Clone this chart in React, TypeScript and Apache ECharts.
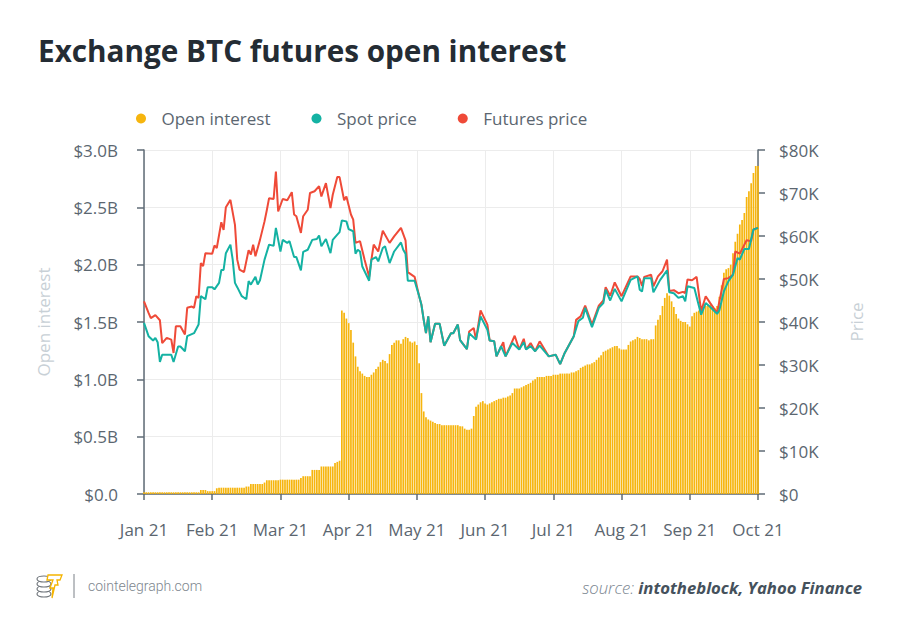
import React, { useEffect, useRef } from "react";
import * as echarts from "echarts";

// x-axis month labels (each month spans 30 daily slots)
const monthLabels = ["Jan 21", "Feb 21", "Mar 21", "Apr 21", "May 21", "Jun 21", "Jul 21", "Aug 21", "Sep 21", "Oct 21"];

// Open interest, $B, daily
const oiJan = [
  0.015, 0.015, 0.015, 0.015, 0.015, 0.015, 0.015, 0.015, 0.015, 0.015,
  0.015, 0.015, 0.015, 0.015, 0.015, 0.015, 0.015, 0.015, 0.015, 0.015,
  0.015, 0.015, 0.015, 0.015, 0.015, 0.035, 0.035, 0.035, 0.025, 0.025,
];
const oiFeb = [
  0.025, 0.025, 0.05, 0.055, 0.055, 0.055, 0.055, 0.055, 0.055, 0.055,
  0.055, 0.055, 0.055, 0.055, 0.055, 0.065, 0.065, 0.087, 0.087, 0.087,
  0.087, 0.087, 0.087, 0.1, 0.12, 0.12, 0.12, 0.12, 0.12, 0.12,
];
const oiMar = [
  0.125, 0.125, 0.125, 0.125, 0.125, 0.125, 0.125, 0.125, 0.125, 0.14,
  0.155, 0.155, 0.155, 0.155, 0.21, 0.21, 0.21, 0.21, 0.24, 0.24,
  0.24, 0.24, 0.24, 0.24, 0.27, 0.28, 0.29, 1.6, 1.58, 1.53,
];
const oiApr = [
  1.49, 1.43, 1.32, 1.2, 1.11, 1.07, 1.05, 1.03, 1.02, 1.02,
  1.04, 1.06, 1.09, 1.11, 1.15, 1.17, 1.16, 1.14, 1.22, 1.3,
  1.32, 1.34, 1.34, 1.31, 1.35, 1.37, 1.36, 1.33, 1.32, 1.33,
];
const oiMay = [
  1.3, 1.14, 0.88, 0.72, 0.67, 0.65, 0.64, 0.63, 0.62, 0.61,
  0.61, 0.6, 0.6, 0.6, 0.6, 0.6, 0.6, 0.6, 0.6, 0.59,
  0.59, 0.57, 0.56, 0.56, 0.57, 0.68, 0.76, 0.78, 0.8, 0.81,
];
const oiJun = [
  0.79, 0.78, 0.79, 0.8, 0.81, 0.82, 0.83, 0.83, 0.84, 0.84,
  0.85, 0.86, 0.88, 0.92, 0.92, 0.92, 0.93, 0.94, 0.95, 0.96,
  0.97, 0.99, 1.0, 1.02, 1.02, 1.02, 1.02, 1.03, 1.03, 1.03,
];
const oiJul = [
  1.04, 1.04, 1.04, 1.05, 1.05, 1.05, 1.05, 1.05, 1.06, 1.06,
  1.07, 1.08, 1.1, 1.11, 1.12, 1.13, 1.13, 1.14, 1.15, 1.17,
  1.19, 1.21, 1.24, 1.25, 1.26, 1.27, 1.28, 1.29, 1.29, 1.27,
];
const oiAug = [
  1.26, 1.26, 1.26, 1.3, 1.33, 1.34, 1.35, 1.37, 1.36, 1.35,
  1.35, 1.35, 1.34, 1.35, 1.35, 1.47, 1.52, 1.56, 1.64, 1.71,
  1.75, 1.73, 1.68, 1.63, 1.57, 1.53, 1.51, 1.5, 1.5, 1.48,
];
const oiSep = [
  1.46, 1.55, 1.58, 1.59, 1.6, 1.61, 1.63, 1.64, 1.65, 1.65,
  1.64, 1.62, 1.64, 1.72, 1.82, 1.93, 1.96, 1.97, 2.0, 2.1,
  2.2, 2.27, 2.35, 2.39, 2.45, 2.59, 2.64, 2.71, 2.8, 2.86,
];
const oiOct = [2.86];

const openInterestB = [
  ...oiJan, ...oiFeb, ...oiMar, ...oiApr, ...oiMay, ...oiJun, ...oiJul, ...oiAug, ...oiSep, ...oiOct,
];

// Spot price, $K : [day slot, price]
const spotPriceK: [number, number][] = [
  [0, 39.8], [2, 36.7], [4, 35.7], [5, 36.3], [6, 35.3], [7, 30.7], [8, 32.4], [12, 32.4], [13, 30.7], [15, 34.3],
  [16, 34.3], [18, 33.2], [19, 36.7], [22, 37.4], [24, 39.4], [25, 46.0], [27, 45.3], [28, 48.1], [30, 48.1], [31, 47.6],
  [33, 49.1], [34, 52.1], [35, 52.1], [36, 56.0], [38, 58.0], [39, 54.5], [40, 49.1], [41, 48.1], [43, 46.0], [45, 45.3],
  [46, 49.5], [47, 48.7], [49, 50.5], [50, 48.7], [51, 49.7], [53, 54.5], [55, 58.0], [57, 57.7], [58, 61.9], [60, 56.4],
  [61, 59.1], [63, 58.4], [64, 58.8], [66, 55.1], [67, 55.1], [69, 52.0], [70, 56.3], [72, 56.8], [74, 59.1], [76, 59.3],
  [77, 60.1], [78, 57.6], [80, 59.3], [82, 56.0], [83, 59.1], [85, 60.3], [86, 60.9], [87, 63.6], [89, 63.4], [90, 61.6],
  [92, 61.1], [93, 55.9], [94, 56.8], [95, 56.4], [96, 52.9], [97, 51.8], [99, 49.6], [100, 54.5], [102, 55.1], [103, 54.1],
  [105, 57.2], [106, 57.6], [108, 53.7], [110, 56.4], [113, 58.5], [114, 56.8], [115, 55.9], [116, 49.6], [119, 49.6], [121, 46.0],
  [122, 44.0], [123, 40.5], [124, 37.4], [125, 41.3], [126, 35.3], [128, 39.6], [130, 39.6], [132, 34.5], [135, 37.4], [136, 37.4],
  [138, 39.4], [139, 35.8], [142, 33.7], [143, 37.4], [146, 35.9], [148, 41.3], [151, 38.2], [152, 35.7], [154, 35.5], [155, 32.0],
  [157, 34.4], [159, 32.0], [162, 35.1], [165, 33.6], [167, 35.3], [168, 33.6], [170, 34.4], [172, 33.2], [174, 34.5], [178, 32.0],
  [181, 32.4], [183, 30.2], [185, 32.8], [189, 36.7], [191, 40.2], [193, 41.0], [194, 43.3], [197, 38.8], [200, 43.3], [202, 44.4],
  [203, 47.5], [205, 45.0], [207, 47.7], [210, 44.8], [214, 49.8], [217, 50.6], [218, 47.5], [219, 47.1], [220, 50.2], [223, 50.2],
  [224, 46.9], [227, 49.8], [230, 52.0], [231, 46.9], [233, 46.7], [235, 45.6], [237, 46.0], [238, 44.8], [239, 48.3], [242, 47.9],
  [245, 41.7], [247, 44.4], [249, 43.5], [252, 41.9], [253, 42.7], [255, 47.1], [257, 49.5], [259, 51.0], [261, 54.9], [262, 54.5],
  [264, 57.0], [266, 57.0], [268, 61.5], [270, 61.9],
];

// Futures price, $K : [day slot, price]
const futuresPriceK: [number, number][] = [
  [0, 44.8], [2, 42.1], [3, 40.9], [5, 41.6], [7, 40.4], [8, 35.1], [10, 36.3], [12, 35.9], [13, 32.8], [14, 39.0],
  [16, 39.0], [18, 37.1], [19, 43.3], [21, 43.6], [22, 43.3], [23, 46.0], [24, 45.6], [25, 53.7], [26, 53.0], [27, 56.0],
  [30, 55.9], [31, 57.8], [32, 57.2], [34, 63.2], [35, 61.4], [36, 66.7], [38, 68.4], [40, 62.6], [41, 54.5], [42, 52.2],
  [44, 51.6], [46, 56.7], [47, 55.7], [48, 58.0], [49, 55.3], [51, 59.1], [53, 63.4], [54, 66.0], [55, 68.8], [57, 68.6],
  [58, 75.0], [59, 65.7], [61, 68.6], [63, 68.3], [65, 70.2], [66, 65.0], [67, 64.6], [69, 60.7], [70, 64.6], [72, 66.1],
  [73, 70.0], [75, 70.4], [77, 71.6], [78, 69.2], [80, 72.3], [82, 66.5], [83, 69.6], [85, 73.7], [86, 73.7], [88, 68.3],
  [89, 69.2], [91, 65.0], [92, 63.8], [93, 58.4], [95, 58.8], [97, 54.5], [99, 50.5], [100, 54.5], [101, 58.0], [103, 56.4],
  [105, 61.2], [108, 58.4], [110, 59.9], [113, 61.9], [115, 59.0], [116, 51.6], [119, 50.5], [121, 46.0], [122, 44.0], [123, 40.5],
  [124, 37.4], [125, 41.3], [126, 35.3], [128, 39.6], [130, 39.6], [132, 34.5], [135, 37.4], [136, 37.4], [138, 39.4], [139, 35.8],
  [142, 33.7], [143, 37.8], [145, 38.6], [146, 35.9], [148, 42.7], [151, 39.4], [152, 35.7], [154, 35.5], [155, 32.0], [158, 35.3],
  [159, 32.0], [163, 36.8], [165, 33.6], [167, 36.1], [168, 33.6], [170, 35.1], [172, 33.2], [174, 35.5], [178, 32.0], [181, 32.4],
  [183, 30.2], [185, 32.8], [189, 36.7], [190, 40.5], [192, 41.3], [194, 43.8], [197, 39.4], [200, 43.8], [202, 45.0], [203, 48.1],
  [205, 46.1], [207, 49.2], [210, 46.0], [214, 50.6], [217, 50.6], [218, 50.0], [219, 48.4], [220, 50.5], [223, 51.0], [224, 48.3],
  [226, 50.6], [228, 51.8], [230, 54.5], [231, 47.2], [233, 47.4], [235, 46.7], [237, 47.0], [238, 46.7], [239, 49.9], [241, 49.7],
  [243, 50.5], [245, 42.5], [247, 46.0], [249, 44.4], [252, 42.1], [255, 50.0], [257, 50.2], [259, 51.0], [260, 56.4], [262, 55.9],
  [265, 59.0], [267, 58.8], [268, 61.5], [270, 61.9],
];

const AXIS = "#5f6b76";
const LABEL = "#5b6670";
const GRID = "#ececec";
const FONT = "Open Sans";

export default function App() {
  const ref = useRef<HTMLDivElement>(null);

  useEffect(() => {
    const chart = echarts.init(ref.current!, null, { renderer: "svg" });
    chart.setOption({
      animation: false,
      backgroundColor: "#ffffff",
      textStyle: { fontFamily: FONT },
      grid: { left: 144, right: 142, top: 150, bottom: 142 },
      legend: {
        left: 136,
        top: 110,
        padding: 0,
        icon: "circle",
        itemWidth: 31,
        itemHeight: 10,
        itemGap: 41,
        textStyle: { fontSize: 17, color: LABEL, fontFamily: FONT },
        data: ["Open interest", "Spot price", "Futures price"],
      },
      xAxis: {
        type: "value",
        min: 0,
        max: 270,
        interval: 30,
        axisLine: { show: true, lineStyle: { color: AXIS, width: 1.5 } },
        axisTick: { show: true, length: 6, lineStyle: { color: AXIS, width: 1.5 } },
        axisLabel: {
          margin: 27,
          fontSize: 17,
          color: LABEL,
          fontFamily: FONT,
          formatter: (v: number) => monthLabels[Math.round(v / 30)] ?? "",
        },
        splitLine: { show: true, lineStyle: { color: GRID, width: 1 } },
      },
      yAxis: [
        {
          type: "value",
          position: "left",
          min: 0,
          max: 3,
          interval: 0.5,
          name: "Open interest",
          nameLocation: "middle",
          nameRotate: 90,
          nameGap: 92,
          nameTextStyle: { color: "#c8d0d6", fontSize: 17, fontFamily: FONT },
          axisLine: { show: true, lineStyle: { color: AXIS, width: 1.5 } },
          axisTick: { show: true, length: 7, lineStyle: { color: AXIS, width: 1.5 } },
          axisLabel: {
            margin: 26,
            fontSize: 17,
            color: LABEL,
            fontFamily: FONT,
            formatter: (v: number) => (v === 0 ? "$0.0" : "$" + v.toFixed(1) + "B"),
          },
          splitLine: { show: true, lineStyle: { color: GRID, width: 1 } },
        },
        {
          type: "value",
          position: "right",
          min: 0,
          max: 80,
          interval: 10,
          name: "Price",
          nameLocation: "middle",
          nameRotate: 90,
          nameGap: 90,
          nameTextStyle: { color: "#c8d0d6", fontSize: 17, fontFamily: FONT },
          axisLine: { show: true, lineStyle: { color: AXIS, width: 1.5 } },
          axisTick: { show: true, length: 7, lineStyle: { color: AXIS, width: 1.5 } },
          axisLabel: {
            margin: 21,
            fontSize: 17,
            color: LABEL,
            fontFamily: FONT,
            formatter: (v: number) => (v === 0 ? "$0" : "$" + v + "K"),
          },
          splitLine: { show: false },
        },
      ],
      series: [
        {
          name: "Open interest",
          type: "bar",
          yAxisIndex: 0,
          data: openInterestB.map((v, i) => [i, v]),
          barWidth: 1.7,
          itemStyle: { color: "#F6B50E" },
          z: 1,
        },
        {
          name: "Futures price",
          type: "line",
          yAxisIndex: 1,
          data: futuresPriceK,
          symbol: "none",
          showSymbol: false,
          lineStyle: { color: "#EF4A38", width: 2 },
          itemStyle: { color: "#EF4A38" },
          z: 2,
        },
        {
          name: "Spot price",
          type: "line",
          yAxisIndex: 1,
          data: spotPriceK,
          symbol: "none",
          showSymbol: false,
          lineStyle: { color: "#14B2A3", width: 2 },
          itemStyle: { color: "#14B2A3" },
          z: 3,
        },
      ],
      graphic: [
        {
          type: "text",
          x: 38,
          y: 50,
          style: {
            text: "Exchange BTC futures open interest",
            fontSize: 29.7,
            fontWeight: "bold",
            fontFamily: FONT,
            fill: "#242c34",
            verticalAlign: "middle",
            align: "left",
          },
        },
        // logo: coin stack + bolt
        {
          type: "group",
          children: [
            { type: "ellipse", shape: { cx: 44, cy: 594, rx: 7, ry: 3 }, style: { fill: "#fff", stroke: "#6f757b", lineWidth: 1.2 } },
            { type: "ellipse", shape: { cx: 44, cy: 589, rx: 7, ry: 3 }, style: { fill: "#fff", stroke: "#6f757b", lineWidth: 1.2 } },
            { type: "ellipse", shape: { cx: 44, cy: 584, rx: 7, ry: 3 }, style: { fill: "#fff", stroke: "#6f757b", lineWidth: 1.2 } },
            { type: "ellipse", shape: { cx: 44, cy: 579, rx: 7, ry: 3 }, style: { fill: "#fff", stroke: "#6f757b", lineWidth: 1.2 } },
            {
              type: "polygon",
              shape: {
                points: [[48, 575], [62, 575], [60, 580], [57, 580], [58, 585], [55, 585], [52, 598], [53, 588], [50, 588], [53, 580], [47, 580]],
              },
              style: { fill: "#fff", stroke: "#F5B400", lineWidth: 1.3 },
            },
          ],
        },
        { type: "line", shape: { x1: 74, y1: 574, x2: 74, y2: 598 }, style: { stroke: "#7a8087", lineWidth: 1 } },
        {
          type: "text",
          x: 88,
          y: 586,
          style: {
            text: "cointelegraph.com",
            fontSize: 14,
            fontWeight: 300,
            fontFamily: "Roboto",
            fill: "#7d868e",
            verticalAlign: "middle",
            align: "left",
          },
        },
        {
          type: "text",
          x: 862,
          y: 587,
          style: {
            text: "{a|source: }{b|intotheblock, Yahoo Finance}",
            align: "right",
            verticalAlign: "middle",
            rich: {
              a: { fontSize: 16.7, fontStyle: "italic", fontWeight: 300, fontFamily: FONT, fill: "#7a858f", color: "#7a858f" },
              b: { fontSize: 16.7, fontStyle: "italic", fontWeight: "bold", fontFamily: FONT, fill: "#45515c", color: "#45515c" },
            },
          },
        },
      ],
    });
    return () => chart.dispose();
  }, []);

  return <div ref={ref} style={{ position: "absolute", left: 0, top: 0, width: 900, height: 636 }} />;
}
